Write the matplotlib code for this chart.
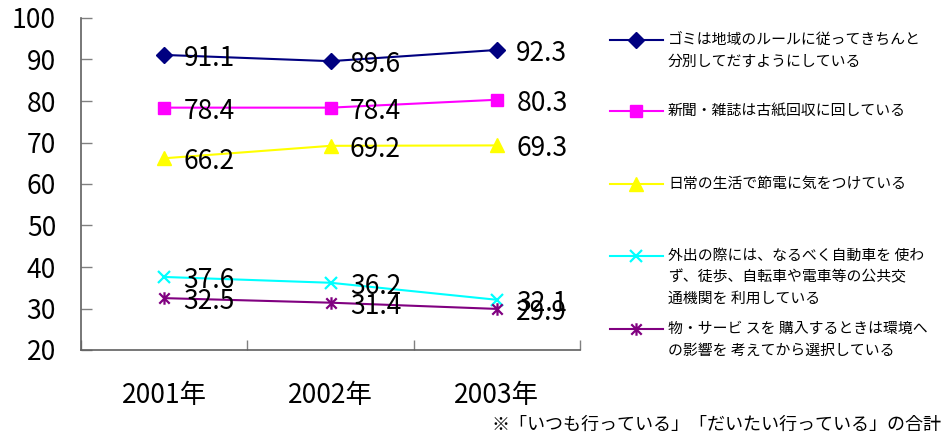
import matplotlib
matplotlib.use("Agg")
import matplotlib.pyplot as plt
from matplotlib.path import Path

plt.rcParams['font.family'] = ['Noto Sans CJK JP', 'DejaVu Sans']

categories = ["2001年", "2002年", "2003年"]
series_labels = [
    "ゴミは地域のルールに従ってきちんと\n分別してだすようにしている",
    "新聞・雑誌は古紙回収に回している",
    "日常の生活で節電に気をつけている",
    "外出の際には、なるべく自動車を 使わ\nず、徒歩、自転車や電車等の公共交\n通機関を 利用している",
    "物・サービ スを 購入するときは環境へ\nの影響を 考えてから選択している",
]
garbage = [91.1, 89.6, 92.3]
paper = [78.4, 78.4, 80.3]
power = [66.2, 69.2, 69.3]
transit = [37.6, 36.2, 32.1]
purchase = [32.5, 31.4, 29.9]
values = [garbage, paper, power, transit, purchase]
yticks = [20, 30, 40, 50, 60, 70, 80, 90, 100]
footnote = "※「いつも行っている」「だいたい行っている」の合計"

star = Path([(-1, -1), (1, 1), (-1, 1), (1, -1), (0, -1.2), (0, 1.2)],
            [Path.MOVETO, Path.LINETO, Path.MOVETO, Path.LINETO, Path.MOVETO, Path.LINETO])

styles = [
    dict(color="#000080", marker="D", ms=8, mew=1),
    dict(color="#FF00FF", marker="s", ms=8.5, mew=1),
    dict(color="#FFFF00", marker="^", ms=10, mew=1),
    dict(color="#00FFFF", marker="x", ms=9, mew=1.6),
    dict(color="#800080", marker=star, ms=9, mew=1.6),
]

W, H = 946, 442
fig = plt.figure(figsize=(W / 100, H / 100), dpi=100)
ax = fig.add_axes([81 / W, 1 - 350 / H, (580 - 81) / W, (350 - 18) / H])

x = list(range(len(categories)))
for vals, st in zip(values, styles):
    ax.plot(x, vals, color=st["color"], lw=1.5, marker=st["marker"], ms=st["ms"],
            mfc=st["color"], mec=st["color"], mew=st["mew"], clip_on=False)
    for xi, v in zip(x, vals):
        ax.annotate(f"{v:.1f}", (xi, v), xytext=(14, -2.5), textcoords="offset points",
                    ha="left", va="center", fontsize=19, color="black")

ax.set_xlim(-0.5, len(categories) - 0.5)
ax.set_ylim(20, 100)
ax.set_yticks(yticks)
ax.set_xticks(x)
ax.set_xticklabels(categories)
ax.set_xticks([i - 0.5 for i in range(len(categories) + 1)], minor=True)
ax.tick_params(axis="x", which="major", length=0, pad=23, labelsize=19)
ax.tick_params(axis="x", which="minor", direction="in", length=7, width=1, color="#808080")
ax.tick_params(axis="y", direction="in", length=8, width=1, color="#808080", pad=18, labelsize=19)
for s in ["top", "right"]:
    ax.spines[s].set_visible(False)
for s in ["left", "bottom"]:
    ax.spines[s].set_color("#606060")
    ax.spines[s].set_linewidth(1.2)

# legend drawn in pixel space
lax = fig.add_axes([0, 0, 1, 1])
lax.set_xlim(0, W)
lax.set_ylim(H, 0)
lax.axis("off")
entry_y = [40, 111, 184, 256, 329]
for lab, st, ey in zip(series_labels, styles, entry_y):
    lax.plot([610, 663], [ey, ey], color=st["color"], lw=1.5)
    lax.plot([636], [ey], color=st["color"], marker=st["marker"], ms=st["ms"],
             mfc=st["color"], mec=st["color"], mew=st["mew"])
    for i, line in enumerate(lab.split("\n")):
        lax.text(668, ey + i * 21.5, line, fontsize=10.7, va="center", ha="left")

lax.text(941, 425, footnote, fontsize=13, va="center", ha="right")

fig.savefig("out.png", dpi=100)
